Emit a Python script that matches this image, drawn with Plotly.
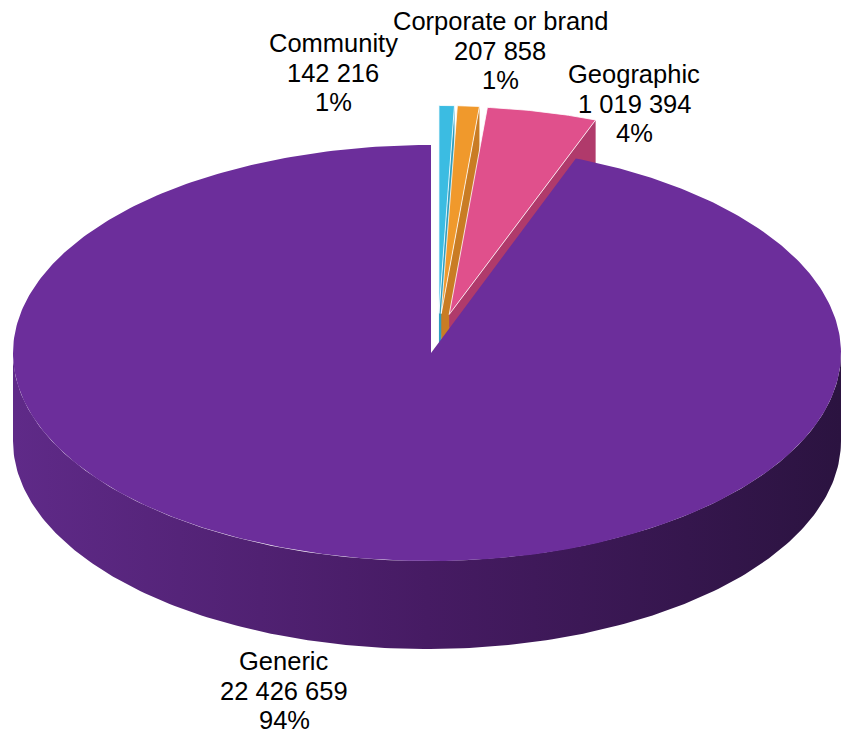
import numpy as np
import plotly.graph_objects as go

# ---- data ----
categories = ["Community", "Corporate or brand", "Geographic", "Generic"]
values = [142216, 207858, 1019394, 22426659]
value_labels = ["142 216", "207 858", "1 019 394", "22 426 659"]
pct_labels = ["1%", "1%", "4%", "94%"]
exploded = [True, True, True, False]

# ---- styles ----
top_colors = ["#3bbce2", "#f0992c", "#e0508c", "#6c2e9b"]
face_colors = ["#2f9ec0", "#c97c24", "#b03a6b", "#4a1d6a"]
side_scale = [[0.0, "#5f2a88"], [0.5, "#461b63"], [1.0, "#2b1340"]]

W, H = 842, 736
cx, cy, rx, ry, depth = 427, 353, 414, 208, 88   # ellipse of the top face
apx, apy = 431, 353                               # projected pie centre
ex_frac_x, ex_frac_y, ex_gap = 0.12, 0.19, 7      # explosion of pulled-out slices
edepth = 60

# label positions (centre x, y of first line), line spacing
label_pos = [(333, 43), (500, 21), (634, 74), (284, 661)]
line_gap = 29.5

total = sum(values)
fracs = [v / total for v in values]
starts = np.cumsum([0] + fracs[:-1]) * 360.0
ends = np.cumsum(fracs) * 360.0


def rim(theta_deg, ox=0.0, oy=0.0):
    t = np.radians(theta_deg)
    return cx + ox + rx * np.sin(t), cy + oy - ry * np.cos(t)


fig = go.Figure()

# exploded slices: right radial face then top face
for i in range(len(values)):
    if not exploded[i]:
        continue
    a0, a1 = starts[i], ends[i]
    mid = np.radians((a0 + a1) / 2)
    ox = ex_gap + ex_frac_x * rx * np.sin(mid)
    oy = -ex_frac_y * ry * np.cos(mid)
    px, py = apx + ox, apy + oy
    ex_, ey_ = rim(a1, ox + (apx - cx), oy)
    fx = [px, ex_, ex_, px, px]
    fy = [py, ey_, ey_ + edepth, py + edepth, py]
    fig.add_trace(go.Scatter(x=fx, y=fy, mode="lines", fill="toself",
                             fillcolor=face_colors[i], line=dict(width=0),
                             hoverinfo="skip", showlegend=False))
    th = np.linspace(a0, a1, 40)
    ax_, ay_ = rim(th, ox + (apx - cx), oy)
    tx = np.concatenate([[px], ax_, [px]])
    ty = np.concatenate([[py], ay_, [py]])
    fig.add_trace(go.Scatter(x=tx, y=ty, mode="lines", fill="toself",
                             fillcolor=top_colors[i],
                             line=dict(width=0.8, color="white"),
                             hoverinfo="skip", showlegend=False))

# main (Generic) slice: cylinder side then top
gi = 3
th = np.linspace(90, 270, 200)
sx, sy = rim(th)
side_x = np.concatenate([sx, sx[::-1], [sx[0]]])
side_y = np.concatenate([sy, sy[::-1] + depth, [sy[0]]])
fig.add_trace(go.Scatter(x=side_x, y=side_y, mode="lines", fill="toself",
                         fillgradient=dict(type="horizontal", colorscale=side_scale),
                         line=dict(width=0), hoverinfo="skip", showlegend=False))

th = np.linspace(starts[gi], ends[gi], 400)
gx, gy = rim(th)
gx = gx + (apx - cx) * np.cos(np.radians(th)) ** 8  # keep the 12 o'clock edge at the centre
top_x = np.concatenate([[apx], gx, [apx]])
top_y = np.concatenate([[apy], gy, [apy]])
fig.add_trace(go.Scatter(x=top_x, y=top_y, mode="lines", fill="toself",
                         fillcolor=top_colors[gi], line=dict(width=0),
                         hoverinfo="skip", showlegend=False))

# labels
for i, name in enumerate(categories):
    lx, ly = label_pos[i]
    for k, txt in enumerate([name, value_labels[i], pct_labels[i]]):
        fig.add_annotation(x=lx, y=ly + k * line_gap, text=txt, showarrow=False,
                           xanchor="center", yanchor="middle",
                           font=dict(family="Liberation Sans, Arial", size=25.5,
                                     color="black"))

fig.update_layout(
    width=W, height=H,
    margin=dict(l=0, r=0, t=0, b=0),
    paper_bgcolor="white", plot_bgcolor="white",
    xaxis=dict(range=[0, W], visible=False, fixedrange=True),
    yaxis=dict(range=[H, 0], visible=False, fixedrange=True),
    showlegend=False,
)

fig.write_html("out.html")
